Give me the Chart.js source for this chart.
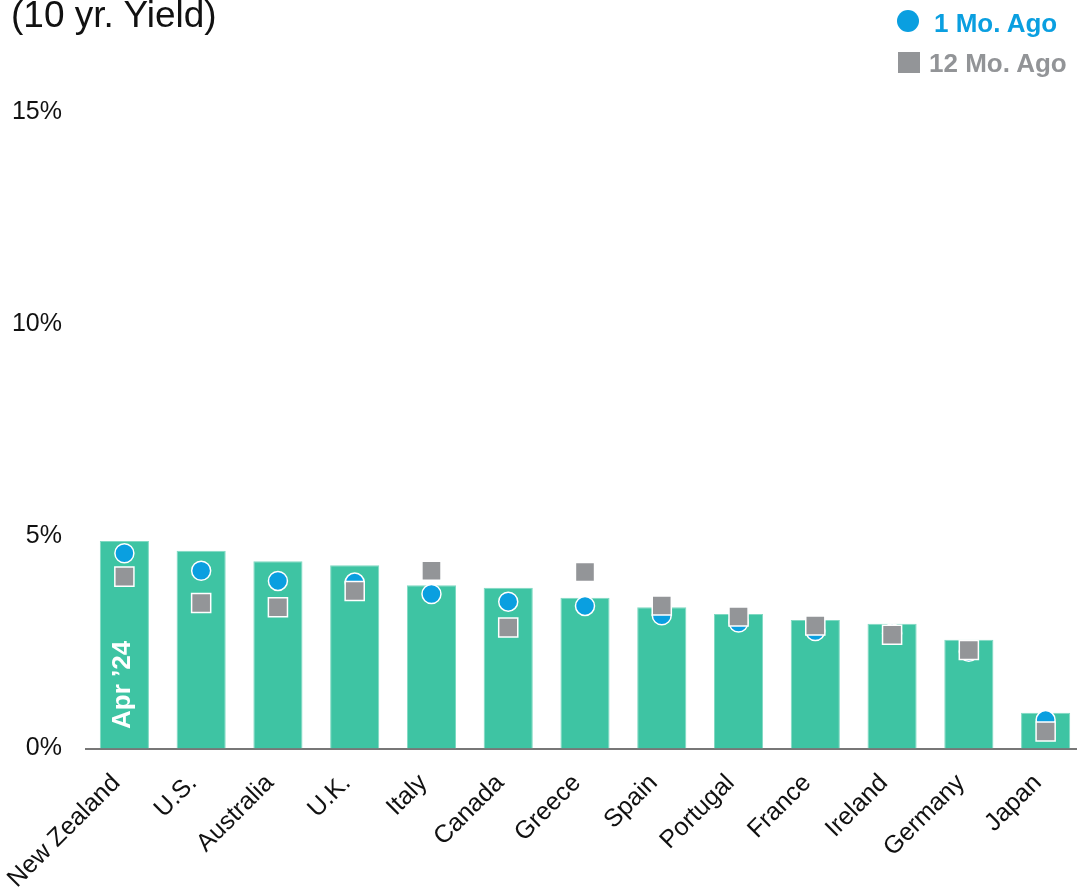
<!DOCTYPE html>
<html>
<head>
<meta charset="utf-8">
<script src="https://cdn.jsdelivr.net/npm/chart.js@4.4.1/dist/chart.umd.min.js"></script>
<style>
  html, body { margin: 0; padding: 0; background: #fff; }
  #wrap { position: relative; width: 1077px; height: 894px; overflow: hidden; font-family: "Liberation Sans", Arial, sans-serif; }
  #yieldChart { position: absolute; left: 0; top: 0; }
  #title { position: absolute; left: 11px; top: -6px; font-size: 37px; color: #111; white-space: nowrap; }
  .leg { position: absolute; font-weight: bold; font-size: 26px; white-space: nowrap; line-height: 30px; }
  .mk { position: absolute; }
  #leg1 { left: 934px; top: 8px; color: #0a9fe0; }
  #mk1 { left: 897px; top: 10px; width: 22px; height: 22px; border-radius: 50%; background: #0a9fe0; }
  #leg2 { left: 929px; top: 48px; color: #929497; }
  #mk2 { left: 898px; top: 52px; width: 22px; height: 21px; background: #939598; }
</style>
</head>
<body>
<div id="wrap">
  <canvas id="yieldChart" width="1099" height="894"></canvas>
  <div id="title">(10 yr. Yield)</div>
  <div class="mk" id="mk1"></div>
  <div class="leg" id="leg1">1 Mo. Ago</div>
  <div class="mk" id="mk2"></div>
  <div class="leg" id="leg2">12 Mo. Ago</div>
</div>
<script>
// ==== Data ====
const countries = ['New Zealand', 'U.S.', 'Australia', 'U.K.', 'Italy', 'Canada', 'Greece', 'Spain', 'Portugal', 'France', 'Ireland', 'Germany', 'Japan'];
const current = [4.89, 4.66, 4.41, 4.32, 3.85, 3.79, 3.55, 3.33, 3.17, 3.03, 2.94, 2.56, 0.84];
const oneMonthAgo = [4.60, 4.19, 3.95, 3.91, 3.64, 3.46, 3.36, 3.14, 2.97, 2.77, 2.71, 2.28, 0.67];
const twelveMonthsAgo = [4.05, 3.43, 3.33, 3.71, 4.19, 2.85, 4.16, 3.37, 3.11, 2.90, 2.68, 2.32, 0.40];
const yTicks = [0, 5, 10, 15];
const barLabel = 'Apr \u201924';

const FONT = '"Liberation Sans", Arial, sans-serif';

// white rotated label inside first bar
const barLabelPlugin = {
  id: 'barLabel',
  afterDatasetsDraw(chart) {
    const bar = chart.getDatasetMeta(0).data[0];
    const y = chart.scales.y.getPixelForValue(1.5);
    const c = chart.ctx;
    c.save();
    c.translate(bar.x - 2, y);
    c.rotate(-Math.PI / 2);
    c.fillStyle = '#fff';
    c.font = 'bold 26px ' + FONT;
    c.textAlign = 'center';
    c.textBaseline = 'middle';
    c.fillText(barLabel, 0, 0);
    c.restore();
  }
};

const ctx = document.getElementById('yieldChart');
new Chart(ctx, {
  type: 'bar',
  data: {
    labels: countries,
    datasets: [
      {
        label: 'Apr 24',
        data: current,
        backgroundColor: '#3ec4a3',
        borderColor: '#7fd9c2',
        borderWidth: 1,
        barPercentage: 0.8,
        categoryPercentage: 0.8,
        order: 3
      },
      {
        type: 'line',
        label: '1 Mo. Ago',
        data: oneMonthAgo,
        showLine: false,
        pointStyle: 'circle',
        pointRadius: 9.5,
        pointBackgroundColor: '#0a9fe0',
        pointBorderColor: '#fff',
        pointBorderWidth: 1.5,
        order: 2
      },
      {
        type: 'line',
        label: '12 Mo. Ago',
        data: twelveMonthsAgo,
        showLine: false,
        pointStyle: 'rect',
        pointRadius: 13.5,
        pointBackgroundColor: '#939598',
        pointBorderColor: '#fff',
        pointBorderWidth: 1.5,
        order: 1
      }
    ]
  },
  options: {
    responsive: false,
    animation: false,
    layout: { padding: { top: 112, right: 0, bottom: 0, left: 0 } },
    plugins: {
      legend: { display: false },
      tooltip: { enabled: false }
    },
    scales: {
      x: {
        offset: true,
        grid: { display: false, drawTicks: false },
        border: { display: true, color: '#777', width: 2 },
        ticks: {
          color: '#111',
          font: { family: FONT, size: 25 },
          minRotation: 45,
          maxRotation: 45,
          autoSkip: false,
          padding: 20,
          labelOffset: -8
        },
        afterFit(scale) {
          scale.height = 145.5;
          scale.paddingLeft = 0;
        }
      },
      y: {
        min: 0,
        max: 15,
        afterBuildTicks(scale) { scale.ticks = yTicks.map(v => ({ value: v })); },
        grid: { display: false, drawTicks: false },
        border: { display: false },
        ticks: {
          color: '#111',
          font: { family: FONT, size: 25 },
          padding: 24,
          callback: v => v + '%'
        },
        afterFit(scale) { scale.width = 86; }
      }
    }
  },
  plugins: [barLabelPlugin]
});
</script>
</body>
</html>
